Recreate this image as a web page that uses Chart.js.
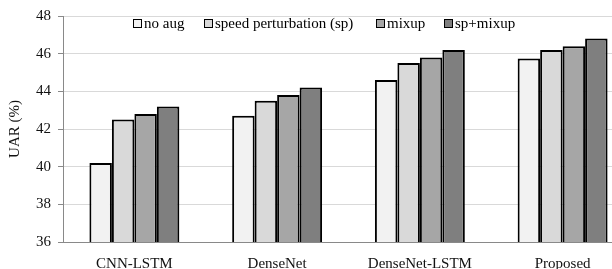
<!DOCTYPE html>
<html>
<head>
<meta charset="utf-8">
<script src="https://cdn.jsdelivr.net/npm/chart.js@4"></script>
<style>
  html, body { margin: 0; padding: 0; background: #fff; }
  #wrap { position: relative; width: 612px; height: 269px; overflow: hidden; }
  #box { position: absolute; left: 0; top: 0; width: 634px; height: 269px; }
  #legend { position: absolute; top: 15px; left: 133px; font: 15px "Liberation Serif", serif; color: #000; white-space: nowrap; }
  #legend span.item { position: absolute; top: 0; }
  #legend span.sw { display: inline-block; width: 7px; height: 7px; border: 1.5px solid #000; margin-right: 2px; }
</style>
</head>
<body>
<div id="wrap">
  <div id="box"><canvas id="uarChart"></canvas></div>
  <div id="legend"></div>
</div>
<script>
const categories = ["CNN-LSTM", "DenseNet", "DenseNet-LSTM", "Proposed"];
const seriesNames = ["no aug", "speed perturbation (sp)", "mixup", "sp+mixup"];
const noAug = [40.2, 42.7, 44.6, 45.75];
const speedPert = [42.5, 43.5, 45.5, 46.2];
const mixup = [42.8, 43.8, 45.8, 46.4];
const spMixup = [43.2, 44.2, 46.2, 46.8];
const seriesColors = ["#f2f2f2", "#d9d9d9", "#a6a6a6", "#7f7f7f"];

const values = [noAug, speedPert, mixup, spMixup];

/* legend (offsets of each entry from the legend's left edge) */
const legendOffsets = [0, 71, 243, 311];
const legendEl = document.getElementById("legend");
seriesNames.forEach(function (name, i) {
  const item = document.createElement("span");
  item.className = "item";
  item.style.left = legendOffsets[i] + "px";
  item.innerHTML = '<span class="sw" style="background:' + seriesColors[i] + '"></span>' + name;
  legendEl.appendChild(item);
});

const ctx = document.getElementById("uarChart");

new Chart(ctx, {
  type: "bar",
  data: {
    labels: categories,
    datasets: values.map(function (v, i) {
      return {
        label: seriesNames[i],
        data: v,
        backgroundColor: seriesColors[i],
        borderColor: "#000",
        borderWidth: 2,
        borderSkipped: "bottom",
        categoryPercentage: 0.63,
        barPercentage: 1
      };
    })
  },
  options: {
    responsive: true,
    maintainAspectRatio: false,
    animation: false,
    layout: { padding: { top: 14, right: 0, left: 6, bottom: 0 } },
    plugins: {
      legend: { display: false },
      tooltip: { enabled: false }
    },
    scales: {
      y: {
        min: 36,
        max: 48,
        ticks: {
          stepSize: 2,
          color: "#111",
          padding: 7,
          font: { family: "Liberation Serif", size: 15 }
        },
        grid: { color: "#d9d9d9", tickColor: "#898989", tickLength: 5 },
        border: { color: "#898989" },
        title: {
          display: true,
          text: "UAR (%)",
          color: "#111",
          padding: 0,
          font: { family: "Liberation Serif", size: 15 }
        },
        afterFit: function (scale) { scale.width = 57; }
      },
      x: {
        ticks: {
          color: "#111",
          padding: 5,
          font: { family: "Liberation Serif", size: 15 }
        },
        grid: { display: false },
        border: { color: "#898989" },
        afterFit: function (scale) { scale.height = 27; }
      }
    }
  }
});
</script>
</body>
</html>
